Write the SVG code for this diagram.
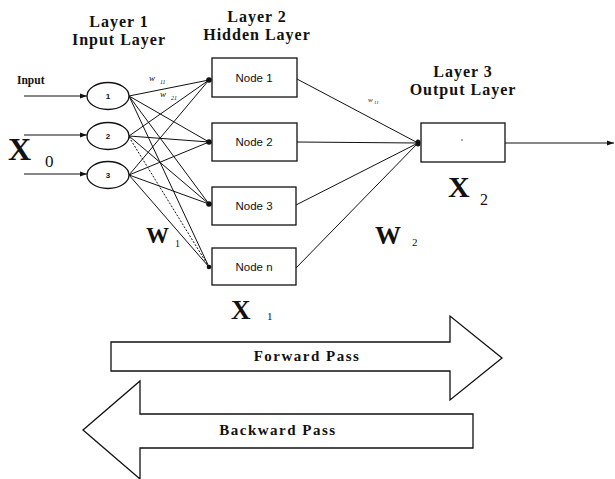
<svg xmlns="http://www.w3.org/2000/svg" width="615" height="479" viewBox="0 0 615 479">
<style>
.title{font-family:"Liberation Serif",serif;font-weight:bold;font-size:16px;letter-spacing:1px;text-anchor:middle;fill:#111}
.node{fill:#fff;stroke:#111;stroke-width:1.3}
.nl{font-family:"Liberation Sans",Arial,sans-serif;font-size:11.5px;text-anchor:middle;fill:#111}
.el{font-family:"Liberation Sans",Arial,sans-serif;font-weight:bold;font-size:8px;text-anchor:middle;fill:#111}
.big{font-family:"Liberation Serif",serif;font-weight:bold;fill:#111}
.sub{font-family:"Liberation Serif",serif;fill:#111}
.w{font-family:"Liberation Serif",serif;font-style:italic;fill:#111}
.c{stroke:#111;stroke-width:1;fill:none}
.d{stroke:#111;stroke-width:1;fill:none;stroke-dasharray:2 1.5}
.dot{fill:#111}
.pass{fill:#fff;stroke:#111;stroke-width:1.3}
.pl{font-family:"Liberation Serif",serif;font-weight:bold;font-size:15px;letter-spacing:1.5px;text-anchor:middle;fill:#111}
</style>
<defs>
<marker id="ah" markerWidth="8" markerHeight="6" refX="7" refY="3" orient="auto" markerUnits="userSpaceOnUse">
<path d="M0,0.5 L7,3 L0,5.5 Z" fill="#111"/>
</marker>
</defs>

<g id="titles">
<text class="title" x="119" y="27">Layer 1</text>
<text class="title" x="119" y="45">Input Layer</text>
<text class="title" x="257" y="22">Layer 2</text>
<text class="title" x="257" y="40">Hidden Layer</text>
<text class="title" x="463" y="77">Layer 3</text>
<text class="title" x="463" y="95">Output Layer</text>
</g>

<g id="connectors">
<line class="c" x1="24" y1="96" x2="87" y2="96" marker-end="url(#ah)"/>
<line class="c" x1="24" y1="135" x2="87" y2="135" marker-end="url(#ah)"/>
<line class="c" x1="24" y1="174" x2="87" y2="174" marker-end="url(#ah)"/>
<line class="c" x1="129" y1="96" x2="209" y2="80"/>
<line class="c" x1="129" y1="96" x2="209" y2="142"/>
<line class="c" x1="129" y1="96" x2="209" y2="204"/>
<line class="c" x1="129" y1="96" x2="209" y2="267"/>
<line class="c" x1="129" y1="136" x2="209" y2="80"/>
<line class="c" x1="129" y1="136" x2="209" y2="142"/>
<line class="c" x1="129" y1="136" x2="209" y2="204"/>
<line class="d" x1="129" y1="137" x2="209" y2="267"/>
<line class="c" x1="129" y1="175" x2="209" y2="80"/>
<line class="c" x1="129" y1="175" x2="209" y2="142"/>
<line class="c" x1="129" y1="175" x2="209" y2="204"/>
<line class="c" x1="129" y1="175" x2="209" y2="267"/>
<circle class="dot" cx="209" cy="80" r="2.8"/>
<circle class="dot" cx="209" cy="142" r="2.8"/>
<circle class="dot" cx="209" cy="204" r="2.8"/>
<circle class="dot" cx="209" cy="267" r="2.3"/>
<line class="c" x1="297" y1="79" x2="418" y2="143"/>
<line class="c" x1="297" y1="142" x2="418" y2="143"/>
<line class="c" x1="296" y1="205" x2="418" y2="143"/>
<line class="c" x1="296" y1="268" x2="418" y2="143"/>
<ellipse class="dot" cx="418" cy="143" rx="2.5" ry="3.5"/>
<line class="c" x1="505" y1="143" x2="614" y2="143" marker-end="url(#ah)"/>
</g>

<g id="input-label">
<text x="17" y="84" style="font-family:'Liberation Serif',serif;font-weight:bold;font-size:11.5px;fill:#111">Input</text>
</g>

<g id="in1"><ellipse class="node" cx="108" cy="96" rx="21" ry="13.5"/><text class="el" x="108" y="99">1</text></g>
<g id="in2"><ellipse class="node" cx="108" cy="136" rx="21" ry="13.5"/><text class="el" x="108" y="139">2</text></g>
<g id="in3"><ellipse class="node" cx="108" cy="175" rx="21" ry="13.5"/><text class="el" x="108" y="178">3</text></g>

<g id="h1"><rect class="node" x="212" y="58" width="85" height="39"/><text class="nl" x="254" y="82">Node 1</text></g>
<g id="h2"><rect class="node" x="212" y="123" width="85" height="38"/><text class="nl" x="254" y="146">Node 2</text></g>
<g id="h3"><rect class="node" x="212" y="187" width="84" height="38"/><text class="nl" x="254" y="210">Node 3</text></g>
<g id="hn"><rect class="node" x="212" y="248" width="84" height="37"/><text class="nl" x="254" y="271">Node n</text></g>

<g id="out"><rect class="node" x="421" y="123" width="84" height="39"/><circle class="dot" cx="462" cy="140" r="0.7"/></g>

<g id="labels">
<text class="w" x="149" y="81" font-size="9">w</text><text class="w" x="160" y="84" font-size="6">11</text>
<text class="w" x="160" y="97" font-size="9">w</text><text class="w" x="171" y="100" font-size="6">21</text>
<text class="w" x="368" y="102" font-size="7">w</text><text class="w" x="374" y="104" font-size="5">11</text>
<text class="big" x="8" y="160" font-size="32">X</text><text class="sub" x="45" y="167" font-size="17">0</text>
<text class="big" x="146" y="243" font-size="23">W</text><text class="sub" x="175" y="247" font-size="10">1</text>
<text class="big" x="375" y="244" font-size="26">W</text><text class="sub" x="412" y="246" font-size="11">2</text>
<text class="big" x="231" y="319" font-size="27">X</text><text class="sub" x="267" y="320" font-size="11">1</text>
<text class="big" x="448" y="197" font-size="30">X</text><text class="sub" x="480" y="205" font-size="16">2</text>
</g>

<g id="forward">
<polygon class="pass" points="111,342 450,342 450,316 502,358 450,400 450,371 111,371"/>
<text class="pl" x="307" y="361">Forward Pass</text>
</g>
<g id="backward">
<polygon class="pass" points="83,430 140,381 140,414 473,414 473,448 140,448 140,479"/>
<text class="pl" x="278" y="435">Backward Pass</text>
</g>
</svg>
